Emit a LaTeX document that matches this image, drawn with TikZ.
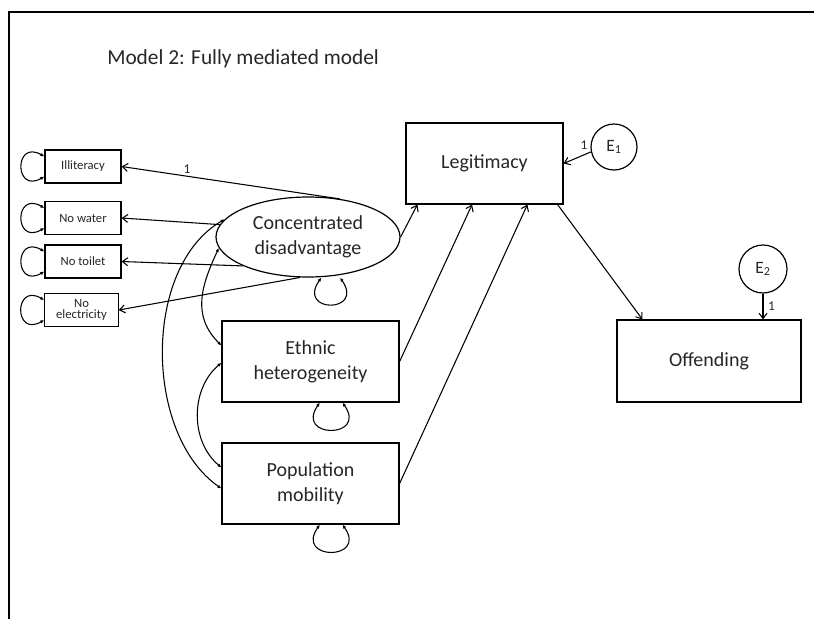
\documentclass[tikz,border=0pt]{standalone}
\usepackage{fontspec}
\setmainfont{Carlito}
\usetikzlibrary{arrows.meta, shapes.geometric, positioning}
\tikzset{
    obsvar/.style={draw, line width=0.9pt, minimum height=60.75pt, align=center, inner sep=2pt, text=black!85, font=\fontsize{15}{18.75}\selectfont},
    indvar/.style={draw, line width=0.9pt, minimum width=57pt, minimum height=24.75pt, inner sep=1pt, align=center, text=black!85, font=\fontsize{9.5}{8.6}\selectfont},
    latvar/.style={ellipse, draw, line width=0.9pt, minimum width=138pt, minimum height=60pt, inner sep=0pt, align=center, text=black!85, font=\fontsize{15}{18.75}\selectfont},
    errvar/.style={circle, draw, line width=0.9pt, inner sep=0pt, text=black!85, font=\fontsize{13}{15}\selectfont},
    regr/.style={-{Straight Barb[length=4pt,width=6pt]}, line width=0.8pt},
    covar/.style={{Latex[length=3pt,width=2.6pt]}-{Latex[length=3pt,width=2.6pt]}, line width=0.8pt},
    varloopW/.style={covar, out=150, in=210, looseness=4.5},
    varloopS/.style={covar, out=-125, in=-55, looseness=5},
    fixlbl/.style={font=\fontsize{10}{12}\selectfont, inner sep=1.5pt, text=black!85},
}
\begin{document}
\begin{tikzpicture}[x=0.75pt, y=-0.75pt]
    \useasboundingbox (0,0) rectangle (814,619);
    \draw[line width=2pt] (9,619) -- (9,12) -- (814,12);
    \node[anchor=base west, inner sep=0pt, text=black!85, font=\fontsize{16}{19}\selectfont] (title) at (107,64) {Model 2: Fully mediated model};

    \node[indvar] (ill) at (83,166.5) {Illiteracy};
    \node[indvar] (wat) at (83,218) {No water};
    \node[indvar] (toi) at (83,261.5) {No toilet};
    \node[indvar, minimum width=55pt] (ele) at (81.5,310) {No\\electricity};

    \node[latvar] (cd) at (308,237) {Concentrated\\disadvantage};
    \node[obsvar, minimum width=117.75pt] (leg) at (484.5,163.5) {Legitimacy};
    \node[obsvar, minimum width=132.75pt] (eth) at (310.5,361.5) {Ethnic\\heterogeneity};
    \node[obsvar, minimum width=132.75pt] (pop) at (310.5,483.5) {Population\\mobility};
    \node[obsvar, minimum width=138pt, minimum height=61.5pt] (off) at (709,361) {Offending};
    \node[errvar, minimum size=34.5pt] (e1) at (614,147) {E\textsubscript{1}};
    \node[errvar, minimum size=36pt] (e2) at (763,269) {E\textsubscript{2}};

    \draw[regr] (cd.50) -- node[fixlbl, pos=0.7, above] {1} (ill.east);
    \draw[regr] (cd.172) -- (wat.east);
    \draw[regr] (cd.204) -- (toi.east);
    \draw[regr] (cd.259) -- (ele.east);
    \draw[regr] (cd.east) -- ([xshift=9pt]leg.south west);
    \draw[regr] (eth.east) -- ([xshift=50pt]leg.south west);
    \draw[regr] (pop.east) -- ([xshift=91.5pt]leg.south west);
    \draw[regr] ([xshift=-4.5pt]leg.south east) -- ([xshift=19.5pt]off.north west);
    \draw[regr] (e1.192) -- node[fixlbl, pos=0.25, above=2pt] {1} (leg.east);
    \draw[regr] (e2.south) -- node[fixlbl, right=2pt] {1} (e2.south |- off.north);

    \draw[covar] (cd.168) to[out=210, in=145, looseness=0.9] ([yshift=-3.75pt]pop.west);
    \draw[covar] (cd.187) to[out=245, in=135, looseness=1.1] ([yshift=12pt]eth.west);
    \draw[covar] ([yshift=-1pt]eth.west) to[out=220, in=140, looseness=1] ([yshift=12pt]pop.west);

    \draw[varloopW] ([yshift=7.5pt]ill.west) to ([yshift=-7.5pt]ill.west);
    \draw[varloopW] ([yshift=7.5pt]wat.west) to ([yshift=-7.5pt]wat.west);
    \draw[varloopW] ([yshift=7.5pt]toi.west) to ([yshift=-7.5pt]toi.west);
    \draw[varloopW] ([yshift=7.5pt]ele.west) to ([yshift=-7.5pt]ele.west);
    \draw[varloopS, looseness=6] ([xshift=10pt]cd.south) to ([xshift=24pt]cd.south);
    \draw[varloopS] ([xshift=7pt]eth.south) to ([xshift=24pt]eth.south);
    \draw[varloopS] ([xshift=7pt]pop.south) to ([xshift=24pt]pop.south);
\end{tikzpicture}
\end{document}
